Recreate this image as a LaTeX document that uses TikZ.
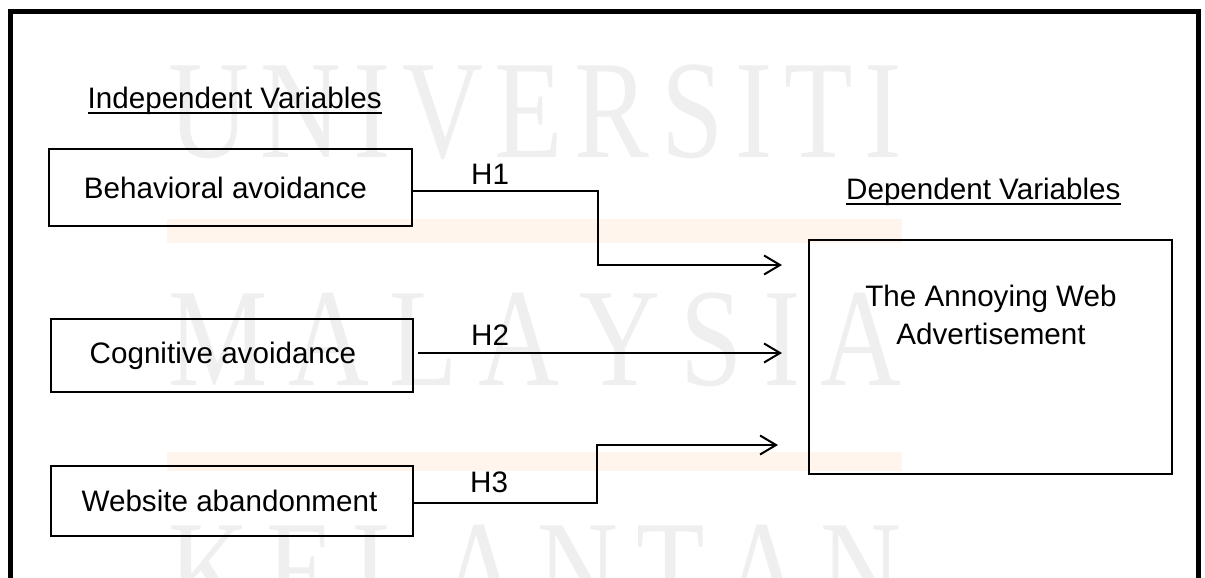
\documentclass[tikz,border=0pt]{standalone}
\usepackage{fontspec}
\usepackage{graphicx}
\setmainfont{Liberation Sans}
\newfontfamily\wmfont{Liberation Serif}
\usetikzlibrary{arrows.meta}
\definecolor{wmgray}{RGB}{239,239,239}
\definecolor{bandcol}{RGB}{255,245,236}
\newcommand{\wmrow}[1]{\scalebox{0.8}[1]{\makebox[917pt][s]{#1}}}
\begin{document}
\begin{tikzpicture}[x=1pt,y=-1pt,
  box/.style={draw, line width=1.5pt, inner sep=0pt, font=\fontsize{29.6}{38}\selectfont},
  lbl/.style={inner sep=0pt, anchor=base west, font=\fontsize{29.6}{38}\selectfont},
  conn/.style={line width=2pt, -{Straight Barb[length=16pt,width=19pt,line width=2pt]}},
  wm/.style={inner sep=0pt, anchor=base west, text=wmgray, font=\fontsize{140}{140}\selectfont\wmfont},
  framestyle/.style={line width=5pt}]
\useasboundingbox (0,0) rectangle (1205,578);
% background bands
\fill[bandcol] (167,219) rectangle (902,243);
\fill[bandcol] (167,452) rectangle (902,471);
% watermark
\node[wm] (w1) at (168,157) {\wmrow{U\hfill N\hfill I\hfill V\hfill E\hfill R\hfill S\hfill I\hfill T\hfill I}};
\node[wm] (w2) at (168,385) {\wmrow{M\hfill A\hfill L\hfill A\hfill Y\hfill S\hfill I\hfill A}};
\node[wm] (w3) at (168,617) {\wmrow{K\hfill E\hfill L\hfill A\hfill N\hfill T\hfill A\hfill N}};
% frame
\draw[framestyle] (10,578) -- (10,12) -- (1198,12) -- (1198,578);
% headers
\node[lbl] (iv) at (87.5,108) {Independent Variables};
\draw[line width=2pt] ([yshift=-4.5pt]iv.base west) -- ([yshift=-4.5pt]iv.base east);
\node[lbl] (dv) at (846,199) {Dependent Variables};
\draw[line width=2pt] ([yshift=-4.5pt]dv.base west) -- ([yshift=-4.5pt]dv.base east);
% boxes
\node[box, minimum width=363pt, minimum height=77pt] (beh) at (230.5,187.5) {\hspace*{-10pt}Behavioral avoidance};
\node[box, minimum width=362pt, minimum height=73pt] (cog) at (232,355.5) {\hspace*{-18pt}Cognitive avoidance};
\node[box, minimum width=362pt, minimum height=70pt] (web) at (232,501) {\hspace*{-5pt}Website abandonment};
\node[box, minimum width=363pt, minimum height=234pt] (dep) at (990.5,357) {};
\node[inner sep=0pt, anchor=base, align=center, font=\fontsize{29.6}{38}\selectfont] (dept) at (991,344) {The Annoying Web\\Advertisement};
% arrow ends
\coordinate (t1) at (782,265);
\coordinate (t2) at (782,353);
\coordinate (t3) at (778,445);
% connectors
\draw[conn] ([yshift=-3.5pt]beh.east) -- ++(185,0) |- (t1);
\draw[conn, shorten <=4pt] ([yshift=2.5pt]cog.east) -- (t2);
\draw[conn] ([yshift=-2pt]web.east) -- ++(183,0) |- (t3);
% hypothesis labels
\node[lbl] (h1) at (471,184) {H1};
\node[lbl] (h2) at (471,345) {H2};
\node[lbl] (h3) at (470,492) {H3};
\end{tikzpicture}
\end{document}
